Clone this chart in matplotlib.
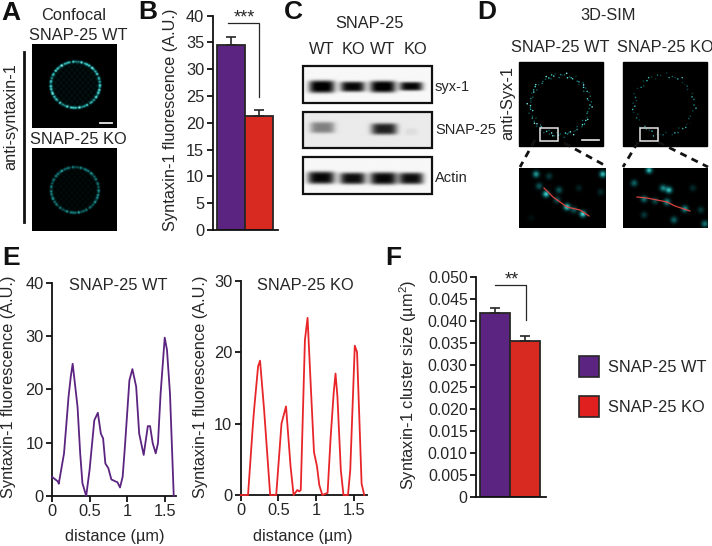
import numpy as np
import matplotlib
matplotlib.use("Agg")
import matplotlib.pyplot as plt
from matplotlib.colors import LinearSegmentedColormap
from matplotlib.patches import Rectangle

plt.rcParams['font.family'] = ['Liberation Sans', 'DejaVu Sans']
plt.rcParams['mathtext.default'] = 'regular'

# panel B
b_values = [34.5, 21.3]
b_errors = [1.5, 1.1]
b_ticks = [0, 5, 10, 15, 20, 25, 30, 35, 40]

# panel F
f_values = [0.0419, 0.0355]
f_errors = [0.0010, 0.0012]
f_ticks = [0, 0.005, 0.010, 0.015, 0.020, 0.025, 0.030, 0.035, 0.040, 0.045, 0.050]
f_ticklabels = ['0', '0.005', '0.010', '0.015', '0.020', '0.025', '0.030', '0.035', '0.040', '0.045', '0.050']

# panel E, line profiles
wt_x = [0, .08, .09, .16, .22, .25, .275, .34, .375, .405, .455, .5, .563, .61, .65, .68, .71, .75, .79, .85, .87,
        .905, .94, .97, 1.03, 1.07, 1.12, 1.16, 1.22, 1.275, 1.305, 1.34, 1.38, 1.41, 1.445, 1.5, 1.53, 1.57, 1.62]
wt_y = [3.6, 2.7, 2.3, 8, 18.6, 22.4, 24.8, 16.7, 8, 2.4, 0, 4.9, 14.2, 15.6, 11.7, 10.8, 6.1, 5.2, 3.1, 2.7, 2.6,
        1.6, 3.6, 9.2, 21.7, 23.8, 20.5, 11.7, 7.7, 13.1, 13.1, 9.9, 8, 9.9, 19.2, 29.7, 27.4, 19.2, 0]
ko_x = [0, .097, .16, .177, .23, .256, .31, .39, .47, .54, .6, .66, .7, .75, .775, .795, .85, .885, .93, .97,
        1.01, 1.04, 1.08, 1.15, 1.19, 1.23, 1.255, 1.28, 1.325, 1.36, 1.42, 1.45, 1.51, 1.54, 1.6, 1.635]
ko_y = [0, 0, 9.6, 11.9, 18, 18.8, 11.9, 0, 0, 10, 12.4, 4, 0, .7, .5, .7, 21.7, 24.8, 14.7, 6,
        4, 1.4, 0, .3, 8, 14.2, 17, 13.8, 3.5, 0, 0, 3.5, 20.9, 20, 1.6, 0]

PURPLE = '#5b2480'
RED = '#d92a22'
DARK = '#262626'
FS = 11.8
W, H = 712, 546

cyan = LinearSegmentedColormap.from_list('cy', ['#000000', '#0c5f60', '#45d6d2', '#c8ffff'])

fig = plt.figure(figsize=(W / 100, H / 100), dpi=100)


def px_axes(left, top, right, bottom):
    return fig.add_axes([left / W, 1 - bottom / H, (right - left) / W, (bottom - top) / H])


def style(ax):
    for s in ['top', 'right']:
        ax.spines[s].set_visible(False)
    for s in ['left', 'bottom']:
        ax.spines[s].set_linewidth(1.3)
        ax.spines[s].set_color('#111111')
    ax.tick_params(width=1.3, length=4, labelsize=FS, color='#111111', labelcolor=DARK, pad=2)
    ax.patch.set_alpha(0)


def bars(ax, values, errors):
    ax.bar([0, 1], values, width=1, color=[PURPLE, RED], edgecolor=DARK, linewidth=1.3, zorder=2,
           yerr=[[0, 0], errors], error_kw=dict(ecolor=DARK, elinewidth=1.2, capsize=3.5, capthick=1.2))
    ax.set_xticks([])


# B
ax_b = px_axes(212.7, 15.7, 278, 230)
style(ax_b)
bars(ax_b, b_values, b_errors)
ax_b.set_xlim(-0.65, 1.68)
ax_b.set_ylim(0, 40)
ax_b.set_yticks(b_ticks)

# F
ax_f = px_axes(476, 277.3, 546, 496.7)
style(ax_f)
bars(ax_f, f_values, f_errors)
ax_f.set_xlim(-0.65, 1.72)
ax_f.set_ylim(0, 0.05)
ax_f.set_yticks(f_ticks)
ax_f.set_yticklabels(f_ticklabels)
ax_f.tick_params(labelsize=11.4)

# E
ax_e1 = px_axes(52, 282.7, 176, 496)
style(ax_e1)
ax_e1.plot(wt_x, wt_y, color=PURPLE, lw=1.3, clip_on=False, zorder=3)
ax_e1.set_xlim(0, 1.65)
ax_e1.set_ylim(0, 40)
ax_e1.set_yticks([0, 10, 20, 30, 40])
ax_e1.set_xticks([0, .5, 1, 1.5])
ax_e1.set_xticklabels(['0', '0.5', '1', '1.5'])

ax_e2 = px_axes(240.7, 280.7, 366.5, 495)
style(ax_e2)
ax_e2.plot(ko_x, ko_y, color='#e8262a', lw=1.3, clip_on=False, zorder=3)
ax_e2.set_xlim(0, 1.665)
ax_e2.set_ylim(0, 30)
ax_e2.set_yticks([0, 10, 20, 30])
ax_e2.set_xticks([0, .5, 1, 1.5])
ax_e2.set_xticklabels(['0', '0.5', '1', '1.5'])

# everything else goes on a pixel overlay
ov = fig.add_axes([0, 0, 1, 1], zorder=5)
ov.set_xlim(0, W)
ov.set_ylim(H, 0)
ov.axis('off')
ov.patch.set_alpha(0)


def txt(x, y, s, size=FS, ha='center', va='center', **kw):
    ov.text(x, y, s, fontsize=size, ha=ha, va=va, color=kw.pop('color', DARK), **kw)


def confocal(left, top, right, bottom, cx, cy, rx, ry, level):
    # micrograph of a ring-stained cell, not chart data
    yy, xx = np.mgrid[0:1:170j, 0:1:170j]
    dx, dy = (xx - cx) / rx, (yy - cy) / ry
    r = np.sqrt(dx ** 2 + dy ** 2)
    th = np.arctan2(dy, dx)
    beads = 0.6 + 0.2 * np.sin(th * 37) + 0.17 * np.sin(th * 23 + 1) + 0.13 * np.sin(th * 53 + 2) + 0.1 * np.sin(th * 5)
    speck = 0.5 + 0.5 * np.sin(xx * 97) * np.sin(yy * 83 + 1)
    ring = np.exp(-((r - 0.97) / 0.055) ** 2) * beads * level
    inside = (r < 1) * 0.09 * level * speck
    ov.imshow(ring + inside, extent=(left, right, bottom, top), cmap=cyan, vmin=0, vmax=1, aspect='auto',
              zorder=1, interpolation='bilinear')


def blot(left, top, right, bottom, bands, bg):
    # western blot strip: bands are (x, y, half width, half height, darkness) in 0-1 strip coordinates
    yy, xx = np.mgrid[0:1:80j, 0:1:260j]
    img = np.full(xx.shape, bg)
    for bx, by, hw, hh, dark in bands:
        img = img - dark * np.exp(-((xx - bx) / hw) ** 4 - ((yy - by) / hh) ** 4)
    ov.imshow(np.clip(img, 0, 1), extent=(left, right, bottom, top), cmap='gray', vmin=0, vmax=1, aspect='auto',
              zorder=1, interpolation='bilinear')
    ov.add_patch(Rectangle((left, top), right - left, bottom - top, fill=False, ec='#111111', lw=1.6, zorder=2))


def spots(left, top, right, bottom, pts, sigma, zoom_w, zoom_h):
    # sum of soft dots, pts in pixels from the tile's corner
    yy, xx = np.mgrid[0:zoom_h:150j, 0:zoom_w:200j]
    img = np.zeros(xx.shape)
    for px, py, a in pts:
        img += a * np.exp(-((xx - px) ** 2 + (yy - py) ** 2) / (2 * sigma ** 2))
    ov.imshow(img, extent=(left, right, bottom, top), cmap=cyan, vmin=0, vmax=1, aspect='auto', zorder=1,
              interpolation='bilinear')


def sim_ring(left, top, right, bottom, amp, step):
    ov.add_patch(Rectangle((left, top), right - left, bottom - top, color='black', zorder=1))
    idx = np.arange(int(2 * np.pi / step))
    th = idx * step
    rad = 30 + 1.6 * np.sin(idx * 2.4) + 1.2 * np.sin(idx * 1.1)
    bright = amp * (0.42 + 0.28 * np.sin(idx * 1.7) + 0.2 * np.sin(idx * 0.6 + 2))
    cx, cy = (left + right) / 2 - 1, (top + bottom) / 2 + 1
    ov.scatter(cx + rad * np.cos(th), cy + rad * np.sin(th), s=1.3, c=np.clip(bright, 0, 1), cmap=cyan, vmin=0,
               vmax=1, linewidths=0, zorder=2)


# A
confocal(32, 44, 117, 128, 0.51, 0.485, 0.30, 0.285, 0.85)
confocal(32, 148, 117, 231, 0.505, 0.505, 0.29, 0.285, 0.55)
ov.plot([100, 112], [123, 123], color='#e8e8e8', lw=1.3, zorder=3)
ov.plot([23.5, 23.5], [52, 222], color='#111111', lw=2)
txt(74, 15, 'Confocal')
txt(78, 36, 'SNAP-25 WT')
txt(78, 140, 'SNAP-25 KO')
txt(11, 117, 'anti-syntaxin-1', rotation=90)

# B text
txt(171, 120, 'Syntaxin-1 fluorescence (A.U.)', rotation=90)
ov.plot([228, 259, 259], [23, 23, 97], color=DARK, lw=0.9)
txt(244, 18, '***', size=13)

# C
blot(303, 66, 432, 103,
     [(.145, .56, .1, .17, 1.0), (.385, .56, .095, .14, .95), (.62, .56, .1, .16, 1.0), (.84, .55, .09, .12, .95)],
     .97)
blot(303, 112, 432, 148,
     [(.15, .43, .095, .16, .42), (.63, .47, .1, .16, .8), (.84, .55, .05, .1, .05)], .92)
blot(303, 157, 432, 194,
     [(.14, .56, .105, .17, .95), (.385, .58, .1, .16, .92), (.625, .58, .105, .17, .95), (.84, .58, .095, .16, .92)],
     .97)
txt(370, 24, 'SNAP-25')
for lx, s in zip([322, 353, 383, 415], ['WT', 'KO', 'WT', 'KO']):
    txt(lx, 49, s)
txt(435, 87, 'syx-1', size=10.5, ha='left')
txt(435, 130, 'SNAP-25', size=10.5, ha='left')
txt(435, 178, 'Actin', size=10.5, ha='left')

# D
sim_ring(519, 62, 603, 146, 1.0, 0.06)
sim_ring(623, 62, 707, 146, 0.75, 0.1)
for bx in (540, 640):
    ov.add_patch(Rectangle((bx, 128), 17.5, 12.5, fill=False, ec='#e6e6e6', lw=1.1, zorder=3))
ov.plot([582, 599], [140, 140], color='#e8e8e8', lw=1.2, zorder=3)
ov.plot([535, 520], [140, 167], color='#111111', lw=2, ls=(0, (2.5, 2)))
ov.plot([564, 606], [143, 166], color='#111111', lw=2, ls=(0, (2.5, 2)))
ov.plot([638, 623], [142, 167], color='#111111', lw=2, ls=(0, (2.5, 2)))
ov.plot([658, 708], [142, 167], color='#111111', lw=2, ls=(0, (2.5, 2)))
wt_spots = [(17, 6, .5), (27, 26, .65), (20, 18, .3), (40, 22, .3), (48, 39, .7), (64, 46, .7), (84, 6, .6),
            (38, 32, .3), (55, 42, .3), (30, 8, .2), (82, 24, .15), (60, 20, .12), (12, 50, .06)]
ko_spots = [(26, 2, .6), (11, 15, .35), (40, 20, .45), (46, 22, .6), (21, 31, .4), (44, 34, .5), (62, 41, .5),
            (51, 52, .35), (82, 56, .4), (21, 47, .2), (70, 20, .15), (32, 33, .25), (78, 42, .2)]
spots(519, 168, 606, 228, wt_spots, 2.3, 87, 60)
spots(623, 168, 708, 228, ko_spots, 2.3, 85, 60)
ov.plot([544, 553, 567, 580, 589], [188, 197, 207, 210, 216], color='#d8433f', lw=0.9, zorder=3)
ov.plot([637, 647, 667, 675, 690], [197, 198, 202, 206, 211], color='#d8433f', lw=0.9, zorder=3)
txt(608, 16, '3D-SIM')
txt(560, 48, 'SNAP-25 WT')
txt(665, 48, 'SNAP-25 KO')
txt(508, 103, 'anti-Syx-1', rotation=90)

# E text
txt(118, 286, 'SNAP-25 WT')
txt(305, 285, 'SNAP-25 KO')
txt(115, 537, 'distance (\u00b5m)')
txt(303, 537, 'distance (\u00b5m)')
txt(9, 387, 'Syntaxin-1 fluorescence (A.U.)', rotation=90)
txt(200, 387, 'Syntaxin-1 fluorescence (A.U.)', rotation=90)

# F text
txt(408, 385, 'Syntaxin-1 cluster size (\u00b5m$^2$)', rotation=90)
ov.plot([495, 526, 526], [285, 285, 320], color=DARK, lw=0.9)
txt(512, 280, '**', size=13)
ov.add_patch(Rectangle((579, 356), 20, 21, fc=PURPLE, ec=DARK, lw=1.2))
ov.add_patch(Rectangle((579, 396), 20, 21, fc='#e0201f', ec=DARK, lw=1.2))
txt(608, 367, 'SNAP-25 WT', ha='left')
txt(608, 407, 'SNAP-25 KO', ha='left')

# panel letters
for lx, ly, s in [(1, 13, 'A'), (138, 12, 'B'), (284, 12, 'C'), (477, 12, 'D'), (2, 258, 'E'), (385, 258, 'F')]:
    txt(lx, ly, s, size=19, ha='left', fontweight='bold', color='#111111')

ov.set_xlim(0, W)
ov.set_ylim(H, 0)
fig.savefig('out.png', dpi=100)
